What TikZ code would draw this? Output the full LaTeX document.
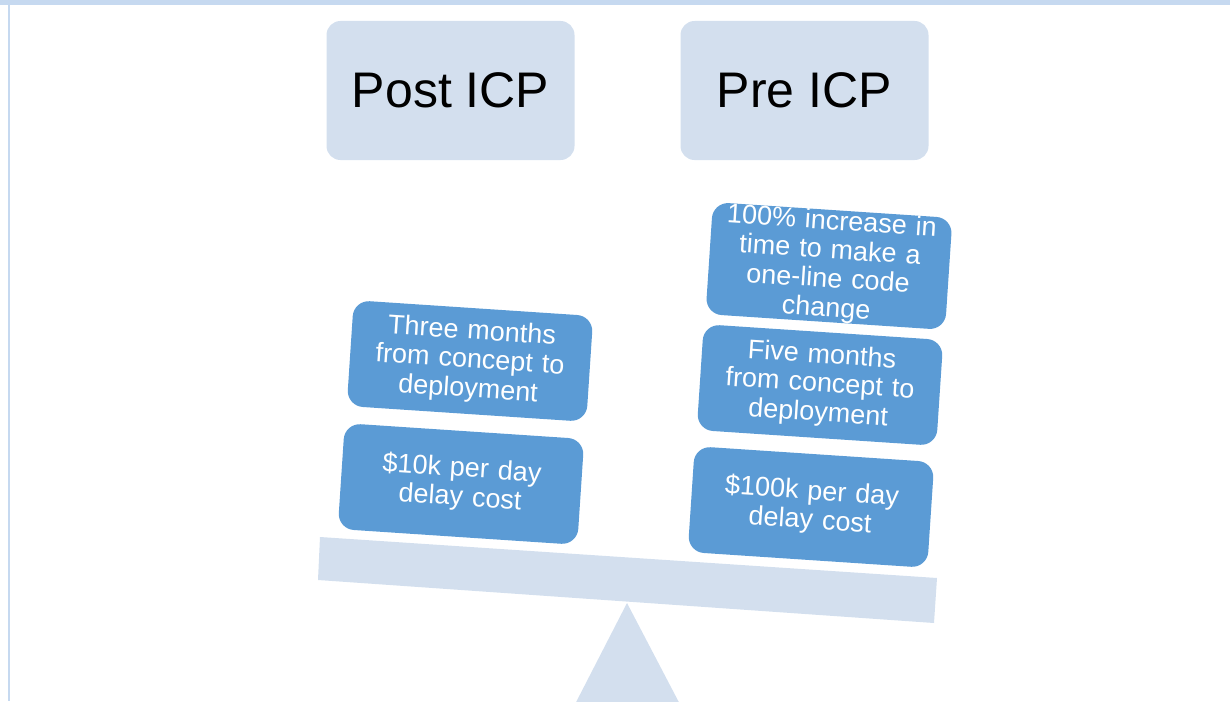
\documentclass[tikz,border=0pt]{standalone}
\usepackage{fontspec}
\setmainfont{Liberation Sans}
\begin{document}
\definecolor{paleblue}{HTML}{D3DFEE}
\definecolor{midblue}{HTML}{5B9BD5}
\definecolor{rulecol}{HTML}{C6D9F0}
\begin{tikzpicture}[x=1pt,y=-1pt,
  headbox/.style={fill=paleblue,rounded corners=14pt,minimum width=248pt,minimum height=139pt,
    font=\fontsize{50}{56}\selectfont,text=black,inner sep=0pt},
  itembox/.style={fill=midblue,rounded corners=16pt,minimum width=240pt,minimum height=106pt,
    text width=236pt,align=center,text=white,inner sep=0pt,rotate=-3.8,
    font=\fontsize{27}{29}\selectfont}]
  \useasboundingbox (0,0) rectangle (1230,701);
  \begin{scope}
    \clip (0,0) rectangle (1230,701);
    % page frame: top band and left rule
    \fill[rulecol] (0,0) rectangle (1230,5);
    \fill[rulecol] (7.5,5) rectangle (9.5,701);
    % fulcrum and beam of the balance
    \fill[paleblue] (627,603) -- (571,712) -- (684,712) -- cycle;
    \fill[paleblue] (320,537) -- (937,578) -- (934,623) -- (318,580) -- cycle;
  \end{scope}
  % headings
  \node[headbox] (post) at (450.5,90.5) {Post ICP};
  \node[headbox] (pre) at (804.5,90.5) {Pre ICP};
  % left pan
  \node[itembox] (l1) at (470,361) {Three months\\from concept to\\deployment};
  \node[itembox] (l2) at (461,484) {\$10k per day\\delay cost};
  % right pan
  \node[itembox] (r1) at (829,266) {100\% increase in\\time to make a\\one-line code\\change};
  \node[itembox] (r2) at (820,385) {Five months\\from concept to\\deployment};
  \node[itembox] (r3) at (811,507) {\$100k per day\\delay cost};
\end{tikzpicture}
\end{document}
